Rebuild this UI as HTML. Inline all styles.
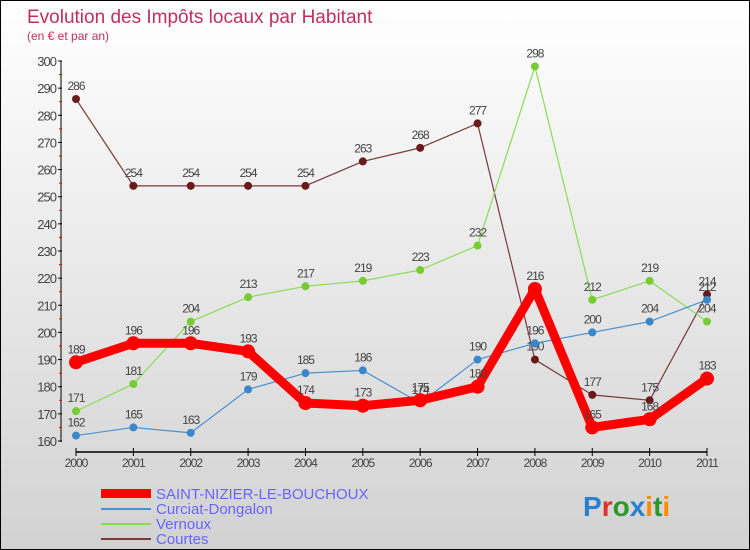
<!DOCTYPE html>
<html><head><meta charset="utf-8"><style>
body{margin:0}
#c{width:750px;height:550px;position:relative;overflow:hidden;box-sizing:border-box;border:1px solid #000;background:linear-gradient(#fff,#d2d2d2);font-family:"Liberation Sans",sans-serif}
svg text{font-family:"Liberation Sans",sans-serif}
</style></head><body>
<div id="c">
<svg id="s" width="750" height="550">
<text x="26" y="22" font-size="19" fill="#c0305a">Evolution des Impôts locaux par Habitant</text>
<text x="26" y="39" font-size="12" fill="#c0305a">(en € et par an)</text>
<g id="axes"></g><g id="series"></g>
<g>
<rect x="100" y="488" width="50" height="9" fill="#f00"/>
<text x="155" y="498" font-size="15" fill="#6666ff">SAINT-NIZIER-LE-BOUCHOUX</text>
<line x1="100" x2="150" y1="508" y2="508" stroke="#4a90d0" stroke-width="2"/>
<text x="155" y="513" font-size="15" fill="#6666ff">Curciat-Dongalon</text>
<line x1="100" x2="150" y1="523" y2="523" stroke="#88dd55" stroke-width="2"/>
<text x="155" y="528" font-size="15" fill="#6666ff">Vernoux</text>
<line x1="100" x2="150" y1="538" y2="538" stroke="#7a3a3a" stroke-width="2"/>
<text x="155" y="543" font-size="15" fill="#6666ff">Courtes</text>
</g>
<g font-size="28" font-weight="bold">
<text x="582" y="515"><tspan fill="#2a7fd0">P</tspan><tspan fill="#e0302a">r</tspan><tspan fill="#2a9a2a">o</tspan><tspan fill="#2a7fd0">x</tspan><tspan fill="#ff8a00">i</tspan><tspan fill="#2a9a2a">t</tspan><tspan fill="#ff8a00">i</tspan></text>
</g>
</svg>
</div>
<script>
const years=[2000,2001,2002,2003,2004,2005,2006,2007,2008,2009,2010,2011];
const yTicks=[160,170,180,190,200,210,220,230,240,250,260,270,280,290,300];
const saint=[189,196,196,193,174,173,175,180,216,165,168,183];
const curciat=[162,165,163,179,185,186,174,190,196,200,204,212];
const vernoux=[171,181,204,213,217,219,223,232,298,212,219,204];
const courtes=[286,254,254,254,254,263,268,277,190,177,175,214];
const NS="http://www.w3.org/2000/svg";
const X=i=>75+i*(631/11);
const Y=v=>440-(v-160)*(380/140);
function mk(t,a,p){const e=document.createElementNS(NS,t);for(const k in a)e.setAttribute(k,a[k]);p.appendChild(e);return e;}
const ax=document.getElementById('axes');
let l=mk('line',{x1:60,x2:60,y1:60,y2:441,stroke:'#000'},ax);


yTicks.forEach(v=>{
 mk('line',{x1:57,x2:61,y1:Y(v),y2:Y(v),stroke:'#000'},ax);
 if(v<300) mk('line',{x1:58,x2:61,y1:Y(v+5),y2:Y(v+5),stroke:'#e00'},ax);
 const t=mk('text',{x:55,y:Y(v)+5,'text-anchor':'end','font-size':13,fill:'#444','letter-spacing':'-1'},ax);
 t.textContent=v;
 
 
});
l=mk('line',{x1:75,x2:706,y1:451,y2:451,stroke:'#000','stroke-width':1.5},ax);


years.forEach((y,i)=>{
 mk('line',{x1:X(i),x2:X(i),y1:447,y2:455,stroke:'#000'},ax);
 const t=mk('text',{x:X(i),y:466,'text-anchor':'middle','font-size':12,fill:'#444','letter-spacing':'-1'},ax);
 t.textContent=y;
 
 
});
const sg=document.getElementById('series');
function draw(name,data,color,w,r,dot){
 const g=mk('g',{},sg);
 
 
 const p=mk('polyline',{points:data.map((v,i)=>X(i)+','+Y(v)).join(' '),fill:'none',stroke:color,'stroke-width':w,'stroke-linejoin':'round'},g);
 
 
 data.forEach((v,i)=>{
  const c=mk('circle',{cx:X(i),cy:Y(v),r:r,fill:dot},g);
  
  
  const t=mk('text',{x:X(i),y:Y(v)-9,'text-anchor':'middle','font-size':12,fill:'#444','letter-spacing':'-1'},g);
  t.textContent=v;
  
  
 });
}
draw('courtes',courtes,'#7a3a3a',1.2,4,'#6a1a1a');
draw('vernoux',vernoux,'#88dd55',1.2,4,'#77cc33');
draw('curciat',curciat,'#4a90d0',1.2,4,'#3a88cc');
draw('saint-nizier',saint,'#f00',9,7,'#f00');
</script>
</body></html>
